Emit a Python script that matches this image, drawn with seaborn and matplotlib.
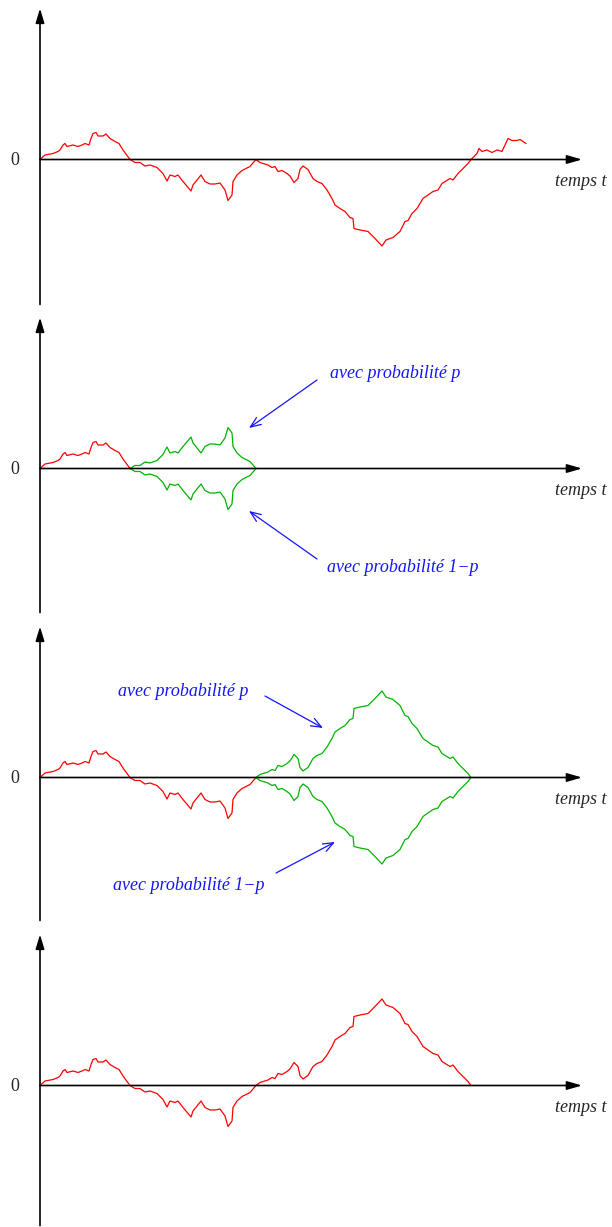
import matplotlib
matplotlib.use('Agg')
import matplotlib.pyplot as plt
import pandas as pd
import seaborn as sns

# ==========================================================
# DATA (time / value)
# ==========================================================
T = [0, 5, 13, 18, 20, 23, 25, 27, 33, 38, 42, 45, 49, 51, 53, 56, 58, 63, 66, 70,
     75, 79, 83, 90, 95, 100, 105, 110, 117, 123, 127, 130, 135, 138, 143, 151, 153,
     157, 161, 165, 170, 175, 180, 185, 188, 192, 193, 197, 202, 210, 216, 220, 228,
     232, 235, 238, 242, 247, 250, 254, 258, 260, 263, 268, 273, 277, 282, 287, 292,
     295, 300, 305, 310, 313, 314, 320, 328, 335, 342, 346, 353, 360, 365, 368, 372,
     377, 383, 388, 393, 398, 402, 410, 413, 418, 428, 431, 437, 439, 442, 447, 452,
     457, 462, 465, 468, 472, 477, 480, 486]
B = [0, 4.5, 6, 8, 9.5, 14.5, 16, 13, 14.5, 13, 14.5, 16, 14.5, 21, 26, 27, 23.5, 23.5,
     25.5, 21, 18, 16, 9.5, 0, -3, -3, -6.5, -5.5, -8, -14, -21.5, -15.5, -17, -15.5,
     -22, -31.5, -25.5, -20.5, -15.5, -22, -24.5, -24.5, -23.5, -30.5, -41, -35.5, -22,
     -15.5, -11, -7, 0, -3, -5.5, -8, -7, -12, -11, -14, -16.5, -23, -19, -10, -6.5,
     -10, -19, -22, -24, -30.5, -39, -45.5, -49, -52, -58, -59, -69, -70.5, -72, -79,
     -86.5, -80.5, -78, -72, -62, -61, -54, -49, -39, -35.5, -32, -30.5, -24, -19,
     -20.5, -14, -4, 0, 6, 11, 8, 9.5, 7, 9.5, 8, 14.5, 21, 19, 19, 20, 16]

EXC1 = (90, 216)    # first excursion (below zero)
EXC2 = (216, 431)   # second excursion (below zero)

LABEL_P = "avec probabilité p"
LABEL_1P = "avec probabilité 1\u2212p"
TIME_LABEL = "temps t"

# ==========================================================
# CONFIGURATION
# ==========================================================
sns.set_style("white")
plt.rcParams['font.family'] = ['Liberation Serif', 'DejaVu Serif']

RED = "#ff0000"
GREEN = "#00b400"
BLUE = "#1414ff"
FS = 13
W, H = 612, 1227
AXIS_Y = [159.5, 468.5, 777.5, 1085.5]   # pixel row of each time axis
BOTTOM = [-145, -144, -143, -140]

df = pd.DataFrame({"t": T, "b": B})


def piece(lo, hi, sign=1):
    d = df[(df.t >= lo) & (df.t <= hi)].copy()
    d["b"] = sign * d["b"]
    return d


def draw_path(ax, d, color):
    sns.lineplot(data=d, x="t", y="b", ax=ax, color=color, lw=0.9,
                 sort=False, estimator=None)


def draw_frame(ax, bottom):
    ax.annotate("", xy=(0, 151), xytext=(0, bottom),
                arrowprops=dict(arrowstyle="-|>,head_length=0.86,head_width=0.26",
                                color="black", lw=1.2, mutation_scale=10,
                                shrinkA=0, shrinkB=0), annotation_clip=False)
    ax.annotate("", xy=(542, 0), xytext=(0, 0),
                arrowprops=dict(arrowstyle="-|>,head_length=0.9,head_width=0.26",
                                color="black", lw=1.2, mutation_scale=10,
                                shrinkA=0, shrinkB=0), annotation_clip=False)
    ax.text(-25, -1, "0", ha="center", va="center", fontsize=FS)
    ax.text(515, -22, TIME_LABEL, ha="left", va="center", fontsize=FS,
            style="italic")


def blue_note(ax, text, txy, tail, tip):
    ax.text(txy[0], txy[1], text, ha="left", va="center", fontsize=FS,
            style="italic", color=BLUE)
    ax.annotate("", xy=tip, xytext=tail,
                arrowprops=dict(arrowstyle="->,head_length=0.75,head_width=0.3",
                                color=BLUE, lw=0.9, mutation_scale=10,
                                shrinkA=0, shrinkB=0), annotation_clip=False)


# ==========================================================
# FIGURE
# ==========================================================
fig = plt.figure(figsize=(W / 100, H / 100), dpi=100)
axes = []
for c in AXIS_Y:
    ax = fig.add_axes([0, (H - (c + 155)) / H, 1, 310 / H])
    ax.set_xlim(-40, W - 40)
    ax.set_ylim(-155, 155)
    ax.axis("off")
    axes.append(ax)

for ax, bottom in zip(axes, BOTTOM):
    draw_frame(ax, bottom)

# panel 1 : full path
draw_path(axes[0], df, RED)

# panel 2 : first excursion reflected
ax = axes[1]
draw_path(ax, piece(0, EXC1[0]), RED)
draw_path(ax, piece(*EXC1), GREEN)
draw_path(ax, piece(*EXC1, sign=-1), GREEN)
c = AXIS_Y[1]
blue_note(ax, LABEL_P, (290, c - 373), (277, c - 380), (209, c - 428))
blue_note(ax, LABEL_1P, (287, c - 567), (277, c - 559), (209, c - 511))

# panel 3 : second excursion reflected
ax = axes[2]
draw_path(ax, piece(0, EXC2[0]), RED)
draw_path(ax, piece(*EXC2), GREEN)
draw_path(ax, piece(*EXC2, sign=-1), GREEN)
c = AXIS_Y[2]
blue_note(ax, LABEL_P, (78, c - 691), (225, c - 696), (283, c - 728))
blue_note(ax, LABEL_1P, (73, c - 886), (236, c - 873), (295, c - 842))

# panel 4 : path with second excursion flipped
ax = axes[3]
draw_path(ax, piece(0, EXC2[0]), RED)
draw_path(ax, piece(*EXC2, sign=-1), RED)

fig.savefig("out.png", dpi=100)
plt.close(fig)
